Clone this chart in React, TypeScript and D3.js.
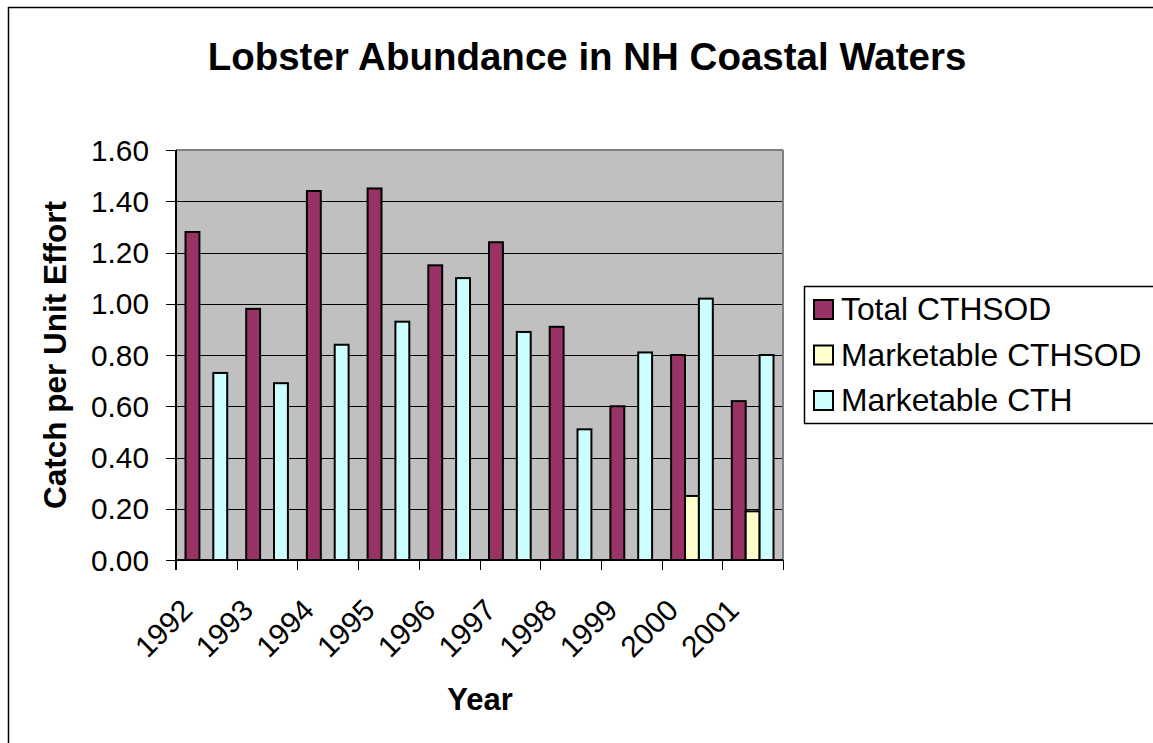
import React from 'react';
import * as d3 from 'd3';

const years = ['1992', '1993', '1994', '1995', '1996', '1997', '1998', '1999', '2000', '2001'];
const totalCTHSOD = [1.28, 0.98, 1.44, 1.45, 1.15, 1.24, 0.91, 0.6, 0.8, 0.62];
const marketableCTHSOD: (number | null)[] = [null, null, null, null, null, null, null, null, 0.25, 0.19];
const marketableCTH = [0.73, 0.69, 0.84, 0.93, 1.1, 0.89, 0.51, 0.81, 1.02, 0.8];
const seriesNames = ['Total CTHSOD', 'Marketable CTHSOD', 'Marketable CTH'];
const seriesColors = ['#993366', '#FFFFCC', '#CCFFFF'];
const yTicks = [0, 0.2, 0.4, 0.6, 0.8, 1.0, 1.2, 1.4, 1.6];
const titleText = 'Lobster Abundance in NH Coastal Waters';
const yTitle = 'Catch per Unit Effort';
const xTitle = 'Year';

const FONT = '"Liberation Sans", Arial, sans-serif';

export default function App() {
  const W = 1153, H = 743;
  const left = 176, right = 783, top = 150, bottom = 560;
  const x = d3.scaleBand<string>().domain(years).range([left, right]).paddingInner(0).paddingOuter(0);
  const inner = d3.scaleBand<string>().domain(seriesNames).range([0, x.bandwidth()]).paddingInner(0).paddingOuter(0.683);
  const y = d3.scaleLinear().domain([0, 1.6]).range([bottom, top]);
  const allSeries = [totalCTHSOD, marketableCTHSOD, marketableCTH];
  const fmt = d3.format('.2f');

  return (
    <svg width={W} height={H} style={{ position: 'absolute', left: 0, top: 0, background: '#fff' }} fontFamily={FONT}>
      <rect x={0} y={0} width={W} height={H} fill="#fff" />
      {/* outer chart border */}
      <rect x={8.5} y={7.5} width={W + 20} height={H + 20} fill="none" stroke="#000" strokeWidth={1.5} />
      {/* title */}
      <text x={587} y={70} textAnchor="middle" fontSize={38.5} fontWeight="bold">{titleText}</text>
      {/* plot area */}
      <rect x={left} y={top} width={right - left} height={bottom - top} fill="#C0C0C0" />
      {yTicks.slice(1, -1).map((t) => (
        <line key={t} x1={left} x2={right} y1={Math.round(y(t)) + 0.5} y2={Math.round(y(t)) + 0.5} stroke="#000" strokeWidth={1} />
      ))}
      {/* top and right plot border */}
      <line x1={left} x2={right} y1={top} y2={top} stroke="#808080" strokeWidth={2} />
      <line x1={right} x2={right} y1={top} y2={bottom} stroke="#808080" strokeWidth={2} />
      {/* bars */}
      {allSeries.map((vals, si) =>
        vals.map((v, i) =>
          v == null ? null : (
            <rect
              key={`${si}-${i}`}
              x={(x(years[i]) as number) + (inner(seriesNames[si]) as number)}
              y={y(v)}
              width={inner.bandwidth()}
              height={y(0) - y(v)}
              fill={seriesColors[si]}
              stroke="#000"
              strokeWidth={2}
            />
          )
        )
      )}
      {/* y axis */}
      <line x1={left} x2={left} y1={top} y2={bottom + 10} stroke="#000" strokeWidth={2} />
      {yTicks.map((t) => (
        <g key={t}>
          <line x1={left - 10} x2={left} y1={Math.round(y(t)) + 0.5} y2={Math.round(y(t)) + 0.5} stroke="#000" strokeWidth={1} />
          <text x={149} y={y(t)} dy="0.36em" textAnchor="end" fontSize={29.8}>{fmt(t)}</text>
        </g>
      ))}
      {/* x axis */}
      <line x1={left} x2={right} y1={bottom} y2={bottom} stroke="#000" strokeWidth={2} />
      {years.map((yr) => (
        <line key={'t' + yr} x1={Math.round(x(yr) as number) + 0.5} x2={Math.round(x(yr) as number) + 0.5} y1={bottom} y2={bottom + 10} stroke="#000" strokeWidth={1} />
      ))}
      <line x1={right + 0.5} x2={right + 0.5} y1={bottom} y2={bottom + 10} stroke="#000" strokeWidth={1} />
      {years.map((yr) => {
        const cx = (x(yr) as number) + x.bandwidth() / 2;
        return (
          <text key={'l' + yr} transform={`translate(${cx - 12},${612}) rotate(-45)`} textAnchor="end" fontSize={29.8}>{yr}</text>
        );
      })}
      {/* axis titles */}
      <text transform={`translate(66,355) rotate(-90)`} textAnchor="middle" fontSize={31.5} fontWeight="bold">{yTitle}</text>
      <text x={480} y={710} textAnchor="middle" fontSize={31} fontWeight="bold">{xTitle}</text>
      {/* legend */}
      <rect x={804.5} y={286.5} width={400} height={137} fill="#fff" stroke="#000" strokeWidth={1.5} />
      {seriesNames.map((name, i) => {
        const ry = 300 + i * 45.5;
        return (
          <g key={name}>
            <rect x={814} y={ry} width={19} height={19} fill={seriesColors[i]} stroke="#000" strokeWidth={2} />
            <text x={841} y={ry + 20} fontSize={31.8}>{name}</text>
          </g>
        );
      })}
    </svg>
  );
}
